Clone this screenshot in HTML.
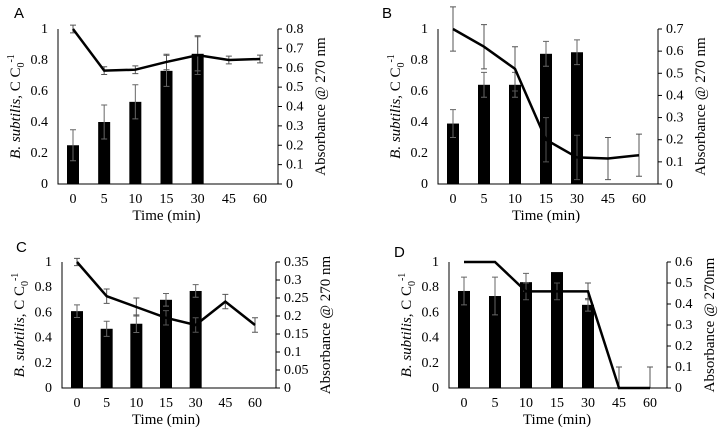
<!DOCTYPE html>
<html><head><meta charset="utf-8"><style>
body{margin:0;background:#fff;}
svg{display:block;}
svg text{font-family:"Liberation Serif","DejaVu Serif",serif;}
svg text.pl{font-family:"Liberation Sans",sans-serif;font-size:15px;}
</style></head><body>
<svg id="c" width="725" height="441"></svg>
<script>
const categories=["0","5","10","15","30","45","60"];
const barsA=[0.25,0.40,0.53,0.73,0.84,null,null];
const barErrA=[0.10,0.11,0.11,0.10,0.11,null,null];
const lineA=[0.80,0.585,0.59,0.63,0.665,0.64,0.645];
const lineErrA=[0.02,0.02,0.02,0.04,0.10,0.02,0.02];
const barsB=[0.39,0.64,0.64,0.84,0.85,null,null];
const barErrB=[0.09,0.08,0.08,0.08,0.08,null,null];
const lineB=[0.70,0.62,0.52,0.20,0.12,0.115,0.13];
const lineErrB=[0.10,0.10,0.10,0.10,0.10,0.095,0.095];
const barsC=[0.61,0.47,0.51,0.70,0.77,null,null];
const barErrC=[0.05,0.06,0.07,0.05,0.05,null,null];
const lineC=[0.35,0.255,0.225,0.195,0.175,0.24,0.175];
const lineErrC=[0.01,0.02,0.025,0.02,0.02,0.02,0.02];
const barsD=[0.77,0.73,0.84,0.92,0.66,null,null];
const barErrD=[0.11,0.15,0.07,0.0,0.05,null,null];
const lineD=[0.60,0.60,0.46,0.46,0.46,0,0];
const lineErrD=[0.0,0.0,0.04,0.04,0.04,0.10,0.10];
const leftTicks=["0","0.2","0.4","0.6","0.8","1"];
const rightTicksA=["0","0.1","0.2","0.3","0.4","0.5","0.6","0.7","0.8"];
const rightTicksB=["0","0.1","0.2","0.3","0.4","0.5","0.6","0.7"];
const rightTicksC=["0","0.05","0.1","0.15","0.2","0.25","0.3","0.35"];
const rightTicksD=["0","0.1","0.2","0.3","0.4","0.5","0.6"];

const svg=document.getElementById('c');
const NS='http://www.w3.org/2000/svg';
function mk(tag,at,parent){const e=document.createElementNS(NS,tag);for(const k in at)e.setAttribute(k,at[k]);(parent||svg).appendChild(e);return e;}

function panel(id,label,g,bars,bErr,line,lErr,rTicks,rTitle){
  const grp=mk('g',{});
  
  
  const rMax=parseFloat(rTicks[rTicks.length-1]);
  const yL=v=>g.bot-(v/1)*(g.bot-g.top);
  const yR=v=>g.bot-(v/rMax)*(g.bot-g.top);
  const step=(g.c1-g.c0)/(categories.length-1);
  const x=i=>g.c0+i*step;
  const t=mk('text',{x:g.lx,y:g.ly,class:'pl'},grp);t.textContent=label;
  
  
  bars.forEach((v,i)=>{if(v==null)return;
    const r=mk('rect',{x:x(i)-6,y:yL(v),width:12,height:g.bot-yL(v),fill:'#000'},grp);
    
    
    const e=bErr[i];if(e>0){
      const p=mk('path',{d:`M${x(i)} ${yL(v-e)}V${yL(v+e)}M${x(i)-3} ${yL(v-e)}h6M${x(i)-3} ${yL(v+e)}h6`,stroke:'#666','stroke-width':1,fill:'none'},grp);
      
      }
  });
  line.forEach((v,i)=>{const e=lErr[i];if(!(e>0))return;
    const lo=Math.max(0,v-e);
    const p=mk('path',{d:`M${x(i)} ${yR(lo)}V${yR(v+e)}M${x(i)-3} ${yR(lo)}h6M${x(i)-3} ${yR(v+e)}h6`,stroke:'#555','stroke-width':1,fill:'none'},grp);
    
    
  });
  const pl=mk('polyline',{points:line.map((v,i)=>x(i)+','+yR(v)).join(' '),fill:'none',stroke:'#000','stroke-width':2.5},grp);
  
  
  const ax=mk('path',{d:`M${g.L} ${g.top}V${g.bot}H${g.R}V${g.top}`,stroke:'#000','stroke-width':1,fill:'none'},grp);
  
  
  leftTicks.forEach((s,i)=>{const v=i*0.2;
    const tt=mk('text',{x:g.L-10,y:yL(v)+4,'text-anchor':'end','font-size':14},grp);tt.textContent=s;
    
    });
  rTicks.forEach(s=>{const v=parseFloat(s);
    mk('line',{x1:g.R,x2:g.R+4,y1:yR(v),y2:yR(v),stroke:'#000'},grp);
    const tt=mk('text',{x:g.R+8,y:yR(v)+4,'font-size':14},grp);tt.textContent=s;
    
    });
  categories.forEach((c,i)=>{const tt=mk('text',{x:x(i),y:g.bot+19,'text-anchor':'middle','font-size':14},grp);tt.textContent=c;
    
    });
  const xt=mk('text',{x:(g.c0+g.c1)/2,y:g.bot+36,'text-anchor':'middle','font-size':15},grp);xt.textContent='Time (min)';
  
  
  const cy=(g.top+g.bot)/2;
  const yt=mk('text',{transform:`translate(${g.L-38},${cy}) rotate(-90)`,'text-anchor':'middle','font-size':15},grp);
  yt.innerHTML='<tspan font-style="italic">B. subtilis,</tspan> C C<tspan font-size="10" dy="4">0</tspan><tspan font-size="10" dy="-10">-1</tspan>';
  
  
  const rt=mk('text',{transform:`translate(${g.R+g.rto},${cy}) rotate(-90)`,'text-anchor':'middle','font-size':15},grp);rt.textContent=rTitle;
  
  
}
panel('a','A',{L:58,R:278,top:29,bot:184,c0:73,c1:260,lx:14,ly:18,rto:47},barsA,barErrA,lineA,lineErrA,rightTicksA,'Absorbance @ 270 nm');
panel('b','B',{L:438,R:658,top:29,bot:184,c0:453,c1:639,lx:382,ly:18,rto:47},barsB,barErrB,lineB,lineErrB,rightTicksB,'Absorbance  @ 270 nm');
panel('c','C',{L:62,R:276,top:262,bot:388,c0:77,c1:255,lx:16,ly:252,rto:54},barsC,barErrC,lineC,lineErrC,rightTicksC,'Absorbance @ 270 nm');
panel('d','D',{L:449,R:667,top:262,bot:388,c0:464,c1:650,lx:394,ly:257,rto:47},barsD,barErrD,lineD,lineErrD,rightTicksD,'Absorbance @ 270nm');
</script>
</body></html>
